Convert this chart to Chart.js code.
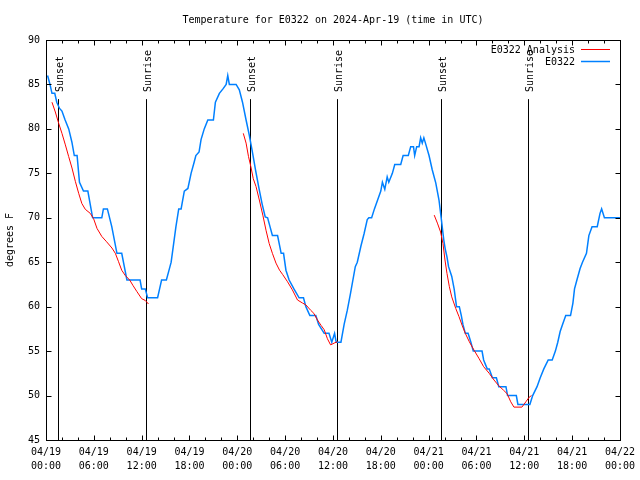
<!DOCTYPE html>
<html>
<head>
<meta charset="utf-8">
<script src="https://cdn.jsdelivr.net/npm/chart.js@4/dist/chart.umd.min.js"></script>
<style>
html,body{margin:0;padding:0;background:#fff;}
#wrap{width:640px;height:480px;}
</style>
</head>
<body>
<div id="wrap"><canvas id="c" width="640" height="480"></canvas></div>
<script>
// ---- data (hours since 2024-04-19 00:00 UTC) ----
const obsHours = [0.2,0.5,0.75,1.1,1.35,1.7,2.0,2.4,2.85,3.25,3.55,3.9,4.2,4.7,5.25,5.85,7.0,7.2,7.7,8.25,8.9,9.5,10.15,11.8,12.0,12.45,12.75,14.0,14.25,14.5,15.1,15.4,15.7,16.0,16.3,16.65,16.95,17.35,17.8,18.2,18.6,18.8,19.2,19.45,19.85,20.3,21.0,21.25,21.75,22.2,22.6,22.8,23.0,23.85,24.25,24.65,25.1,25.5,25.85,26.3,26.7,27.1,27.5,27.8,28.1,28.4,29.05,29.5,29.8,30.1,30.5,31.1,31.75,32.3,32.6,33.1,33.85,34.2,34.9,35.5,35.85,36.2,36.4,37.0,37.4,37.8,38.2,38.8,39.05,39.5,39.9,40.3,40.5,40.85,41.2,41.6,42.0,42.2,42.5,42.8,43.0,43.45,43.75,44.5,44.8,45.45,45.75,46.1,46.25,46.5,46.8,47.0,47.2,47.4,47.6,48.05,48.45,48.9,49.3,49.6,49.9,50.1,50.3,50.5,50.9,51.2,51.5,51.85,52.1,52.3,52.6,52.95,53.3,53.6,54.7,54.9,55.35,55.6,56.0,56.5,56.8,57.7,57.9,59.0,59.2,60.7,61.05,61.6,62.0,62.45,63.0,63.5,63.9,64.2,64.5,64.8,65.2,65.8,66.1,66.3,66.6,67.0,67.3,67.8,68.1,68.5,69.15,69.5,69.7,70.05,72.0];
const obsTemps = [86,85,84,84,83,82.3,82,81,80,78.5,77,77,74,73,73,70,70,71,71,69,66,66,63,63,62,62,61,61,62,63,63,64,65,67,69,71,71,73,73.3,75,76.3,77,77.4,78.8,80,81,81,83,84,84.5,85,86,85,85,84.4,83,81,79.3,77.6,75.3,73.4,71.6,70.1,70,69,68,68,66,66,64.1,63,62,61,61,60,59,59,58,57,57,56,57,56,56,58,59.6,61.5,64.5,65,66.8,68.2,69.8,70,70,71,72,73,74,73.2,74.6,74,75,76,76,77,77,78,78,77,78,78,79,78.4,79,78.4,77,75.4,73.9,72,69.8,67.5,66.4,65.6,64.5,63.4,62,60,60,59,58,57,57,56,55,55,54,53,53,52,52,51,51,50,50,49,49,50,51,52,53,54,54,55,56,57.2,58,59,59,60.4,62,63,64.3,65,66,68,69,69,70.5,71,70,70];

const anaHours = [0.75,1.17,1.6,2.0,2.43,2.84,3.26,3.68,4.1,4.5,4.93,5.55,5.97,6.4,7.0,7.6,8.27,8.7,9.1,9.5,9.95,10.5,10.9,11.4,12.0,12.45,12.86,
  18,
  24.75,25.1,25.4,25.7,26.0,26.35,26.76,27.2,27.6,28.0,28.4,28.85,29.3,29.7,30.3,30.9,31.55,32.2,32.6,33.2,33.6,34.05,34.5,34.9,35.3,35.7,36.15,36.56,
  42,
  48.7,49.1,49.5,49.8,50.05,50.3,50.6,50.9,51.4,51.8,52.2,52.6,53.1,53.7,54.3,54.9,55.6,56.2,56.8,57.4,57.85,58.3,58.7,59.7,60.2,60.6,60.9];
const anaTemps = [83,81.9,80.6,79.5,78.2,76.9,75.6,74.1,72.75,71.6,70.95,70.5,69.9,68.8,67.9,67.3,66.6,66,65.06,64.1,63.5,63,62.4,61.7,60.9,60.7,60.3,
  null,
  79.5,78.4,76.9,75.75,74.4,73.5,72,70.3,68.6,67.1,66,64.9,64.1,63.6,62.8,61.9,60.75,60.4,60.2,59.6,59.25,58.5,57.9,57.4,56.4,55.7,55.9,56.06,
  null,
  70.3,69.4,68.4,67.1,65.25,63.75,62.25,61.1,59.8,58.9,57.9,57,56.06,55.1,54.2,53.25,52.5,51.75,51.1,50.6,50.2,49.3,48.7,48.7,49.3,49.8,50];

const sunHours = [1.5,12.5,25.55,36.56,49.6,60.5];
const sunLabels = ['Sunset','Sunrise','Sunset','Sunrise','Sunset','Sunrise'];

const xTickDates = ['04/19','04/19','04/19','04/19','04/20','04/20','04/20','04/20','04/21','04/21','04/21','04/21','04/22'];
const xTickTimes = ['00:00','06:00','12:00','18:00','00:00','06:00','12:00','18:00','00:00','06:00','12:00','18:00','00:00'];

const seriesNames = ['E0322 Analysis','E0322'];
const seriesColors = ['#ff0000','#0080ff'];

// ---- build ----
const FONT = "'DejaVu Sans Mono', 'Liberation Mono', monospace";
const obs = obsHours.map((h,i)=>({x:h,y:obsTemps[i]}));
const ana = anaHours.map((h,i)=>({x:h,y:anaTemps[i]}));

const decor = {
  id:'decor',
  beforeDatasetsDraw(chart){
    const {ctx, chartArea:a, scales:{x,y}} = chart;
    ctx.save();
    ctx.strokeStyle='#000'; ctx.lineWidth=1;
    ctx.font = '10px ' + FONT;
    ctx.fillStyle='#000';
    const yTop = y.getPixelForValue(83.35);
    sunHours.forEach((h,i)=>{
      const px = Math.round(x.getPixelForValue(h))+0.5;
      ctx.beginPath(); ctx.moveTo(px,yTop); ctx.lineTo(px,a.bottom); ctx.stroke();
      ctx.save();
      ctx.translate(px+4, yTop-7);
      ctx.rotate(-Math.PI/2);
      ctx.textAlign='left'; ctx.textBaseline='alphabetic';
      ctx.fillText(sunLabels[i],0,0);
      ctx.restore();
    });
    ctx.restore();
  },
  afterDraw(chart){
    const {ctx, chartArea:a, scales:{x,y}} = chart;
    ctx.save();
    ctx.strokeStyle='#000'; ctx.lineWidth=1;
    const L=Math.round(a.left)+0.5, R=Math.round(a.right)+0.5, T=Math.round(a.top)+0.5, B=Math.round(a.bottom)+0.5;
    ctx.strokeRect(L,T,R-L,B-T);
    ctx.beginPath();
    for(let h=0; h<=72; h+=2){
      const px=Math.round(x.getPixelForValue(h))+0.5;
      const len = (h%6===0)?5:3;
      ctx.moveTo(px,B); ctx.lineTo(px,B-len);
      ctx.moveTo(px,T); ctx.lineTo(px,T+len);
    }
    for(let v=45; v<=90; v+=5){
      const py=Math.round(y.getPixelForValue(v))+0.5;
      ctx.moveTo(L,py); ctx.lineTo(L+5,py);
      ctx.moveTo(R,py); ctx.lineTo(R-5,py);
    }
    ctx.stroke();
    // legend
    ctx.font='10px '+FONT; ctx.fillStyle='#000';
    ctx.textAlign='right'; ctx.textBaseline='middle';
    const ly=[50,62];
    seriesNames.forEach((n,i)=>{
      ctx.fillText(n,575,ly[i]);
      ctx.strokeStyle=seriesColors[i]; ctx.lineWidth=i===0?1:1.5;
      ctx.beginPath(); ctx.moveTo(581,ly[i]-0.5); ctx.lineTo(610,ly[i]-0.5); ctx.stroke();
    });
    ctx.restore();
  }
};

new Chart(document.getElementById('c'), {
  type:'line',
  data:{datasets:[
    {label:seriesNames[0], data:ana, borderColor:seriesColors[0], borderWidth:1, pointRadius:0, tension:0, spanGaps:false, fill:false},
    {label:seriesNames[1], data:obs, borderColor:seriesColors[1], borderWidth:1.5, pointRadius:0, tension:0, fill:false}
  ]},
  options:{
    responsive:false, animation:false,
    layout:{padding:{top:0,left:0,right:19,bottom:0}},
    plugins:{
      legend:{display:false},
      tooltip:{enabled:false},
      title:{display:true, fullSize:false, text:'Temperature for E0322 on 2024-Apr-19 (time in UTC)', color:'#000',
        font:{family:FONT, size:10, weight:'normal', lineHeight:1.2}, padding:{top:14,bottom:14}}
    },
    scales:{
      x:{type:'linear', min:0, max:72,
        ticks:{stepSize:6, autoSkip:false, maxRotation:0, color:'#000', padding:5,
          font:{family:FONT, size:10, lineHeight:1.4},
          callback:(v)=>{const i=Math.round(v/6); return [xTickDates[i], xTickTimes[i]];}},
        grid:{display:false, drawTicks:false}, border:{display:false},
        afterFit(s){s.height=40;}
      },
      y:{min:45, max:90,
        ticks:{stepSize:5, color:'#000', padding:6, font:{family:FONT, size:10}},
        grid:{display:false, drawTicks:false}, border:{display:false},
        title:{display:true, text:'degrees F', color:'#000', font:{family:FONT, size:10}, padding:{top:4,bottom:0}},
        afterFit(s){s.width=46;}
      }
    }
  },
  plugins:[decor]
});
</script>
</body>
</html>
